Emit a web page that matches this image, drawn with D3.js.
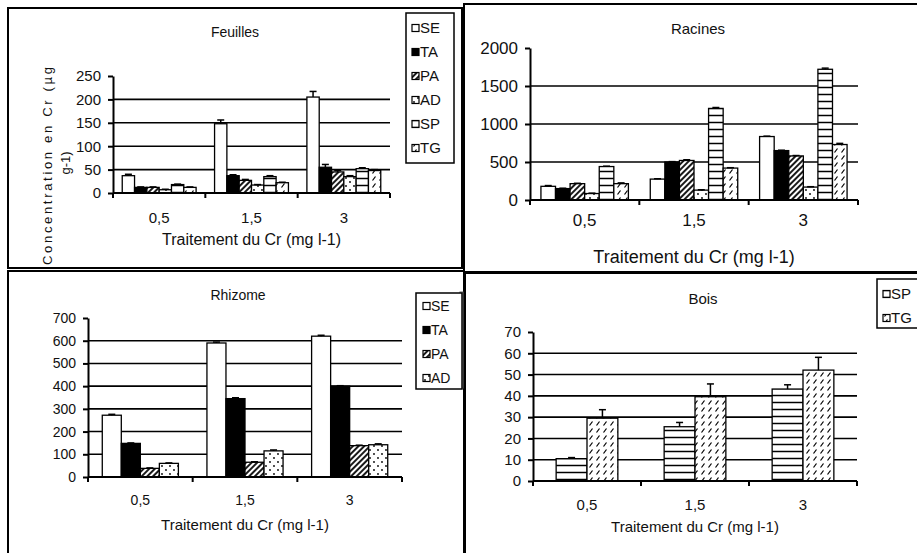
<!DOCTYPE html>
<html>
<head>
<meta charset="utf-8">
<script src="https://cdn.jsdelivr.net/npm/d3@7/dist/d3.min.js"></script>
<style>
  body { margin: 0; background: #fff; }
  text { font-family: "Liberation Sans", Arial, sans-serif; fill: #111; }
</style>
</head>
<body>
<svg id="chart" width="917" height="553"></svg>
<script>
// categories shared by the four charts
const categories = ["0,5", "1,5", "3"];

// Feuilles
const feuillesSeries = ["SE", "TA", "PA", "AD", "SP", "TG"];
const feuillesSE = [37, 148, 205];
const feuillesTA = [12, 37, 55];
const feuillesPA = [12, 27, 45];
const feuillesAD = [7, 17, 35];
const feuillesSP = [18, 35, 52];
const feuillesTG = [12, 22, 48];
const feuillesErr = [[3, 8, 12], [1, 2, 6], [1, 2, 3], [1, 1, 2], [1, 2, 2], [1, 1, 2]];
const feuillesTicks = [0, 50, 100, 150, 200, 250];

// Racines
const racinesSeries = ["SE", "TA", "PA", "AD", "SP", "TG"];
const racinesSE = [180, 275, 835];
const racinesTA = [150, 500, 650];
const racinesPA = [215, 520, 580];
const racinesAD = [85, 130, 170];
const racinesSP = [440, 1205, 1720];
const racinesTG = [215, 420, 730];
const racinesErr = [[10, 5, 5], [5, 5, 5], [5, 10, 5], [5, 5, 5], [5, 12, 15], [10, 5, 15]];
const racinesTicks = [0, 500, 1000, 1500, 2000];

// Rhizome
const rhizomeSeries = ["SE", "TA", "PA", "AD"];
const rhizomeSE = [272, 590, 620];
const rhizomeTA = [148, 345, 400];
const rhizomePA = [38, 65, 138];
const rhizomeAD = [60, 115, 142];
const rhizomeErr = [[4, 4, 4], [2, 4, 2], [2, 2, 2], [2, 4, 4]];
const rhizomeTicks = [0, 100, 200, 300, 400, 500, 600, 700];

// Bois
const boisSeries = ["SP", "TG"];
const boisSP = [10.5, 25.5, 43.2];
const boisTG = [29.5, 39.6, 52.1];
const boisErr = [[0.5, 2, 2], [4, 6, 6]];
const boisTicks = [0, 10, 20, 30, 40, 50, 60, 70];

const xTitle = "Traitement du Cr (mg l-1)";

const svg = d3.select("#chart");
const defs = svg.append("defs");

// fills of each series
function addPattern(id, w, h, draw, rot) {
  const p = defs.append("pattern").attr("id", id)
    .attr("patternUnits", "userSpaceOnUse").attr("width", w).attr("height", h);
  if (rot) p.attr("patternTransform", "rotate(" + rot + ")");
  p.append("rect").attr("width", w).attr("height", h).attr("fill", "#fff");
  draw(p);
}
addPattern("pa", 4, 4, p => p.append("line").attr("x1", 1).attr("x2", 1).attr("y1", 0).attr("y2", 4)
  .attr("stroke", "#000").attr("stroke-width", 1.8), 45);
addPattern("ad", 8, 8, p => {
  p.append("circle").attr("cx", 2).attr("cy", 2).attr("r", 0.9).attr("fill", "#000");
  p.append("circle").attr("cx", 6).attr("cy", 6).attr("r", 0.9).attr("fill", "#000");
});
addPattern("sp", 7, 7, p => p.append("line").attr("x1", 0).attr("x2", 7).attr("y1", 3.5).attr("y2", 3.5)
  .attr("stroke", "#000").attr("stroke-width", 1.5));
addPattern("tg", 7, 7, p => p.append("line").attr("x1", 1.5).attr("y1", 5.5).attr("x2", 4.5).attr("y2", 1.5)
  .attr("stroke", "#000").attr("stroke-width", 1.2));

const fills = { SE: "#fff", TA: "#000", PA: "url(#pa)", AD: "url(#ad)", SP: "url(#sp)", TG: "url(#tg)" };

// panel frames
const frames = [[8, 8, 454, 260], [464, 4, 460, 268], [8, 271, 456, 290], [465, 273, 460, 290]];
svg.selectAll("rect.frame").data(frames).enter().append("rect")
  .attr("class", "frame")
  .attr("x", d => d[0]).attr("y", d => d[1]).attr("width", d => d[2]).attr("height", d => d[3])
  .attr("fill", "none").attr("stroke", "#000").attr("stroke-width", 2);
svg.append("rect").attr("x", 460).attr("y", 292).attr("width", 3).attr("height", 96)
  .attr("fill", "none").attr("stroke", "#666").attr("stroke-width", 1);

function drawChart(c) {
  const g = svg.append("g");
  const x = d3.scaleBand().domain(categories).range([c.x0, c.x1]);
  const inner = d3.scaleBand().domain(c.series).range([0, x.bandwidth()]).paddingOuter(0.75);
  const y = d3.scaleLinear().domain([0, c.ticks[c.ticks.length - 1]]).range([c.y0, c.y1]);

  // gridlines
  g.selectAll("line.grid").data(c.ticks.slice(1, -1)).enter().append("line")
    .attr("x1", c.x0).attr("x2", c.x1).attr("y1", d => y(d)).attr("y2", d => y(d))
    .attr("stroke", "#000").attr("stroke-width", 1.6);

  // bars
  const rows = [];
  c.series.forEach((s, i) => categories.forEach((cat, j) =>
    rows.push({ s: s, cat: cat, v: c.values[i][j], e: c.errors[i][j] })));
  const bars = g.selectAll("g.bar").data(rows).enter().append("g");
  bars.append("rect")
    .attr("x", d => x(d.cat) + inner(d.s)).attr("width", inner.bandwidth())
    .attr("y", d => y(d.v)).attr("height", d => y(0) - y(d.v))
    .attr("fill", d => fills[d.s]).attr("stroke", "#000").attr("stroke-width", 1.3);
  const cx = d => x(d.cat) + inner(d.s) + inner.bandwidth() / 2;
  bars.append("line").attr("x1", cx).attr("x2", cx)
    .attr("y1", d => y(d.v)).attr("y2", d => y(d.v + d.e))
    .attr("stroke", "#000").attr("stroke-width", 1.5);
  bars.append("line").attr("x1", d => cx(d) - 3.5).attr("x2", d => cx(d) + 3.5)
    .attr("y1", d => y(d.v + d.e)).attr("y2", d => y(d.v + d.e))
    .attr("stroke", "#000").attr("stroke-width", 1.5);

  // y axis
  const ya = g.append("g").attr("transform", "translate(" + c.x0 + ",0)")
    .call(d3.axisLeft(y).tickValues(c.ticks).tickFormat(d3.format("d"))
      .tickSize(5).tickPadding(7).tickSizeOuter(0));
  ya.select(".domain").attr("stroke", "#000").attr("stroke-width", 2);
  ya.selectAll(".tick line").attr("stroke", "#000").attr("stroke-width", 2);
  ya.selectAll(".tick text").attr("font-size", c.tickFont).attr("fill", "#111")
    .attr("font-family", "Liberation Sans, Arial, sans-serif");

  // x axis
  g.append("line").attr("x1", c.x0).attr("x2", c.x1).attr("y1", c.y0).attr("y2", c.y0)
    .attr("stroke", "#000").attr("stroke-width", 2);
  const bounds = categories.map(d => x(d)).concat([c.x1]);
  g.selectAll("line.xt").data(bounds).enter().append("line")
    .attr("x1", d => d).attr("x2", d => d).attr("y1", c.y0).attr("y2", c.y0 + 5)
    .attr("stroke", "#000").attr("stroke-width", 2);
  g.selectAll("text.cat").data(categories).enter().append("text")
    .attr("x", d => x(d) + x.bandwidth() / 2).attr("y", c.catY)
    .attr("text-anchor", "middle").attr("font-size", c.tickFont).text(d => d);

  g.append("text").attr("x", (c.x0 + c.x1) / 2).attr("y", c.xLabelY)
    .attr("text-anchor", "middle").attr("font-size", c.xLabelFont).text(xTitle);
  g.append("text").attr("x", c.titleX).attr("y", c.titleY)
    .attr("text-anchor", "middle").attr("font-size", c.titleFont).text(c.title);

  // legend
  if (c.legend) {
    const L = c.legend;
    g.append("rect").attr("x", L.x).attr("y", L.y).attr("width", L.w).attr("height", L.h)
      .attr("fill", "#fff").attr("stroke", "#000").attr("stroke-width", 1.5);
    const items = g.selectAll("g.leg").data(c.series).enter().append("g")
      .attr("transform", (d, i) => "translate(" + (L.x + L.pad) + "," + (L.first + i * L.step) + ")");
    items.append("rect").attr("x", 0).attr("y", -3.5).attr("width", 7).attr("height", 7)
      .attr("fill", d => fills[d]).attr("stroke", "#000").attr("stroke-width", 1.2);
    items.append("text").attr("x", 8).attr("y", L.font * 0.36)
      .attr("font-size", L.font).text(d => d);
  }
}

drawChart({
  title: "Feuilles", series: feuillesSeries,
  values: [feuillesSE, feuillesTA, feuillesPA, feuillesAD, feuillesSP, feuillesTG],
  errors: feuillesErr, ticks: feuillesTicks,
  x0: 113, x1: 390, y0: 193, y1: 76,
  tickFont: 15, catY: 223, xLabelY: 245, xLabelFont: 16,
  titleX: 235, titleY: 37, titleFont: 14,
  legend: { x: 406, y: 13, w: 48, h: 150, pad: 6, first: 28, step: 24, font: 15 }
});
drawChart({
  title: "Racines", series: racinesSeries,
  values: [racinesSE, racinesTA, racinesPA, racinesAD, racinesSP, racinesTG],
  errors: racinesErr, ticks: racinesTicks,
  x0: 530, x1: 858, y0: 200, y1: 48,
  tickFont: 17, catY: 226, xLabelY: 263, xLabelFont: 18,
  titleX: 698, titleY: 34, titleFont: 15
});
drawChart({
  title: "Rhizome", series: rhizomeSeries,
  values: [rhizomeSE, rhizomeTA, rhizomePA, rhizomeAD],
  errors: rhizomeErr, ticks: rhizomeTicks,
  x0: 88, x1: 402, y0: 477, y1: 318,
  tickFont: 14, catY: 505, xLabelY: 530, xLabelFont: 15,
  titleX: 238, titleY: 300, titleFont: 14,
  legend: { x: 416, y: 293, w: 46, h: 96, pad: 7, first: 306, step: 24, font: 14 }
});
drawChart({
  title: "Bois", series: boisSeries,
  values: [boisSP, boisTG],
  errors: boisErr, ticks: boisTicks,
  x0: 533, x1: 857, y0: 481, y1: 332,
  tickFont: 15, catY: 510, xLabelY: 532, xLabelFont: 15,
  titleX: 703, titleY: 304, titleFont: 15,
  legend: { x: 877, y: 279, w: 48, h: 49, pad: 6, first: 294, step: 24, font: 15 }
});

// y title of Feuilles
svg.append("text").attr("transform", "translate(52,166) rotate(-90)")
  .attr("text-anchor", "middle").attr("font-size", 13)
  .attr("textLength", 198).attr("lengthAdjust", "spacing")
  .text("Concentration en Cr (µg");
svg.append("text").attr("transform", "translate(70,163) rotate(-90)")
  .attr("text-anchor", "middle").attr("font-size", 13)
  .text("g-1)");
</script>
</body>
</html>
